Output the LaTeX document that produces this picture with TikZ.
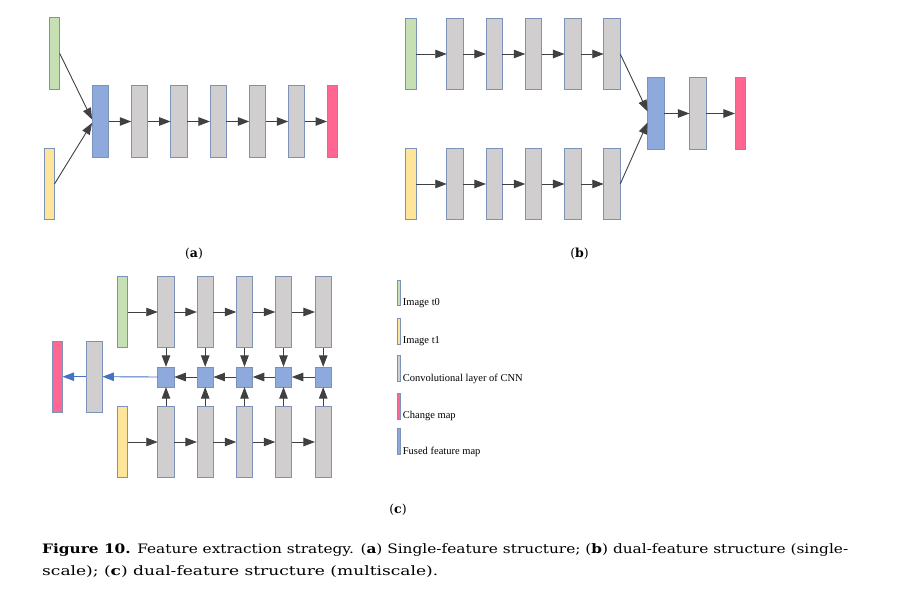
\documentclass[tikz,border=0pt]{standalone}
\usepackage{graphicx}
\usepackage{fontspec}
\setmainfont{Liberation Serif}
\newfontfamily\capfont{DejaVu Serif}
\usetikzlibrary{arrows.meta}
\definecolor{cgreen}{HTML}{C6E0B4}
\definecolor{cyellow}{HTML}{FFE599}
\definecolor{cgray}{HTML}{D0CECE}
\definecolor{cblue}{HTML}{8EA9DB}
\definecolor{cpink}{HTML}{FF6692}
\definecolor{cborder}{HTML}{7C92B8}
\definecolor{carrow}{HTML}{404040}
\definecolor{cbarrow}{HTML}{4472C4}
\begin{document}
\begin{tikzpicture}[x=1pt,y=-1pt,
  box/.style={draw=cborder, line width=0.7pt, inner sep=0pt, outer sep=0pt, minimum height=71.5pt},
  img/.style={box, minimum width=10.5pt},
  conv/.style={box, fill=cgray, minimum width=16.5pt},
  fuse/.style={box, fill=cblue, minimum width=16.5pt},
  fsq/.style={box, fill=cblue, minimum width=16.5pt, minimum height=20.3pt},
  arr/.style={draw=carrow, line width=0.9pt, -{Triangle[length=11.5pt,width=8.5pt]}},
  barr/.style={draw=cbarrow, line width=0.9pt, -{Triangle[length=11.5pt,width=8.5pt]}},
  sw/.style={draw=cborder, line width=0.5pt, inner sep=0pt, outer sep=0pt, minimum width=3pt, minimum height=25.5pt},
  legtext/.style={anchor=base west, inner sep=0pt, font=\fontsize{10.5}{12}\selectfont},
  plabel/.style={inner sep=0pt, font=\capfont\fontsize{12.5}{14}\selectfont}
]
\useasboundingbox (0,0) rectangle (904,593);

% ---------- panel (a)
\node[img, fill=cgreen] (a0) at (54.5,53.5) {};
\node[img, fill=cyellow] (a1) at (49.2,184) {};
\node[fuse] (a2) at (100.3,121.5) {};
\node[conv] (a3) at (139.5,121.5) {};
\node[conv] (a4) at (178.8,121.5) {};
\node[conv] (a5) at (218.2,121.5) {};
\node[conv] (a6) at (257.5,121.5) {};
\node[conv] (a7) at (296.5,121.5) {};
\node[img, fill=cpink] (a8) at (332.3,121.5) {};
\draw[arr] (a0.east) -- ([yshift=2pt]a2.west);
\draw[arr] (a1.east) -- ([yshift=-1.5pt]a2.west);
\foreach \i/\j in {2/3,3/4,4/5,5/6,6/7,7/8}
  \draw[arr] (a\i.east) -- (a\j.west);
\node[plabel] (la) at (194,254) {(\textbf{a})};

% ---------- panel (b)
\node[img, fill=cgreen] (bt0) at (410.7,54) {};
\node[conv] (bt1) at (455,54) {};
\node[conv] (bt2) at (494.2,54) {};
\node[conv] (bt3) at (533.5,54) {};
\node[conv] (bt4) at (572.7,54) {};
\node[conv] (bt5) at (612,54) {};
\node[img, fill=cyellow] (bb0) at (410.7,184) {};
\node[conv] (bb1) at (455,184) {};
\node[conv] (bb2) at (494.2,184) {};
\node[conv] (bb3) at (533.5,184) {};
\node[conv] (bb4) at (572.7,184) {};
\node[conv] (bb5) at (612,184) {};
\foreach \i/\j in {0/1,1/2,2/3,3/4,4/5}{
  \draw[arr] (bt\i.east) -- (bt\j.west);
  \draw[arr] (bb\i.east) -- (bb\j.west);
}
\node[fuse] (bf) at (655.8,113.5) {};
\node[conv] (bc) at (697.7,113.5) {};
\node[img, fill=cpink] (bp) at (740.2,113.5) {};
\draw[arr] (bt5.east) -- ([yshift=2pt]bf.west);
\draw[arr] (bb5.east) -- ([yshift=-9pt]bf.west);
\draw[arr] (bf.east) -- (bc.west);
\draw[arr] (bc.east) -- (bp.west);
\node[plabel] (lb) at (579.5,254) {(\textbf{b})};

% ---------- panel (c)
\node[img, fill=cgreen] (ct0) at (122.5,312) {};
\node[img, fill=cyellow] (cb0) at (122.5,442) {};
\foreach \k/\x in {1/166,2/205.2,3/244.5,4/283.5,5/323.2}{
  \node[conv] (ct\k) at (\x,312) {};
  \node[fsq] (cf\k) at (\x,377) {};
  \node[conv] (cb\k) at (\x,442) {};
  \draw[arr] (ct\k.south) -- (cf\k.north);
  \draw[arr] (cb\k.north) -- (cf\k.south);
}
\foreach \i/\j in {0/1,1/2,2/3,3/4,4/5}{
  \draw[arr] (ct\i.east) -- (ct\j.west);
  \draw[arr] (cb\i.east) -- (cb\j.west);
}
\foreach \i/\j in {2/1,3/2,4/3,5/4}
  \draw[arr] (cf\i.west) -- (cf\j.east);
\node[conv] (cc) at (94.2,376.7) {};
\node[img, fill=cpink] (cp) at (57.3,376.7) {};
\draw[barr] (cf1.west) -- (cc.east);
\draw[barr] (cc.west) -- (cp.east);
\node[plabel] (lc) at (398,509.5) {(\textbf{c})};

% ---------- legend
\node[sw, fill=cgreen] (lg1) at (398.5,292.8) {};
\node[sw, fill=cyellow] (lg2) at (398.5,331.3) {};
\node[sw, fill=cgray] (lg3) at (398.5,368.3) {};
\node[sw, fill=cpink] (lg4) at (398.5,406) {};
\node[sw, fill=cblue] (lg5) at (398.5,441.3) {};
\node[legtext] (lt1) at (402.7,305.7) {Image t0};
\node[legtext] (lt2) at (402.7,343.7) {Image t1};
\node[legtext] (lt3) at (402.7,381) {Convolutional layer of CNN};
\node[legtext] (lt4) at (402.7,418.7) {Change map};
\node[legtext] (lt5) at (402.7,454.3) {Fused feature map};

% ---------- caption
\node[anchor=base west, inner sep=0pt] (cap1) at (42,553) {\resizebox{806pt}{\height}{\capfont\fontsize{13}{15}\selectfont\textbf{Figure 10.} Feature extraction strategy. (\textbf{a}) Single-feature structure; (\textbf{b}) dual-feature structure (single-}};
\node[anchor=base west, inner sep=0pt] (cap2) at (42,575) {\resizebox{396pt}{\height}{\capfont\fontsize{13}{15}\selectfont scale); (\textbf{c}) dual-feature structure (multiscale).}};
\end{tikzpicture}
\end{document}
